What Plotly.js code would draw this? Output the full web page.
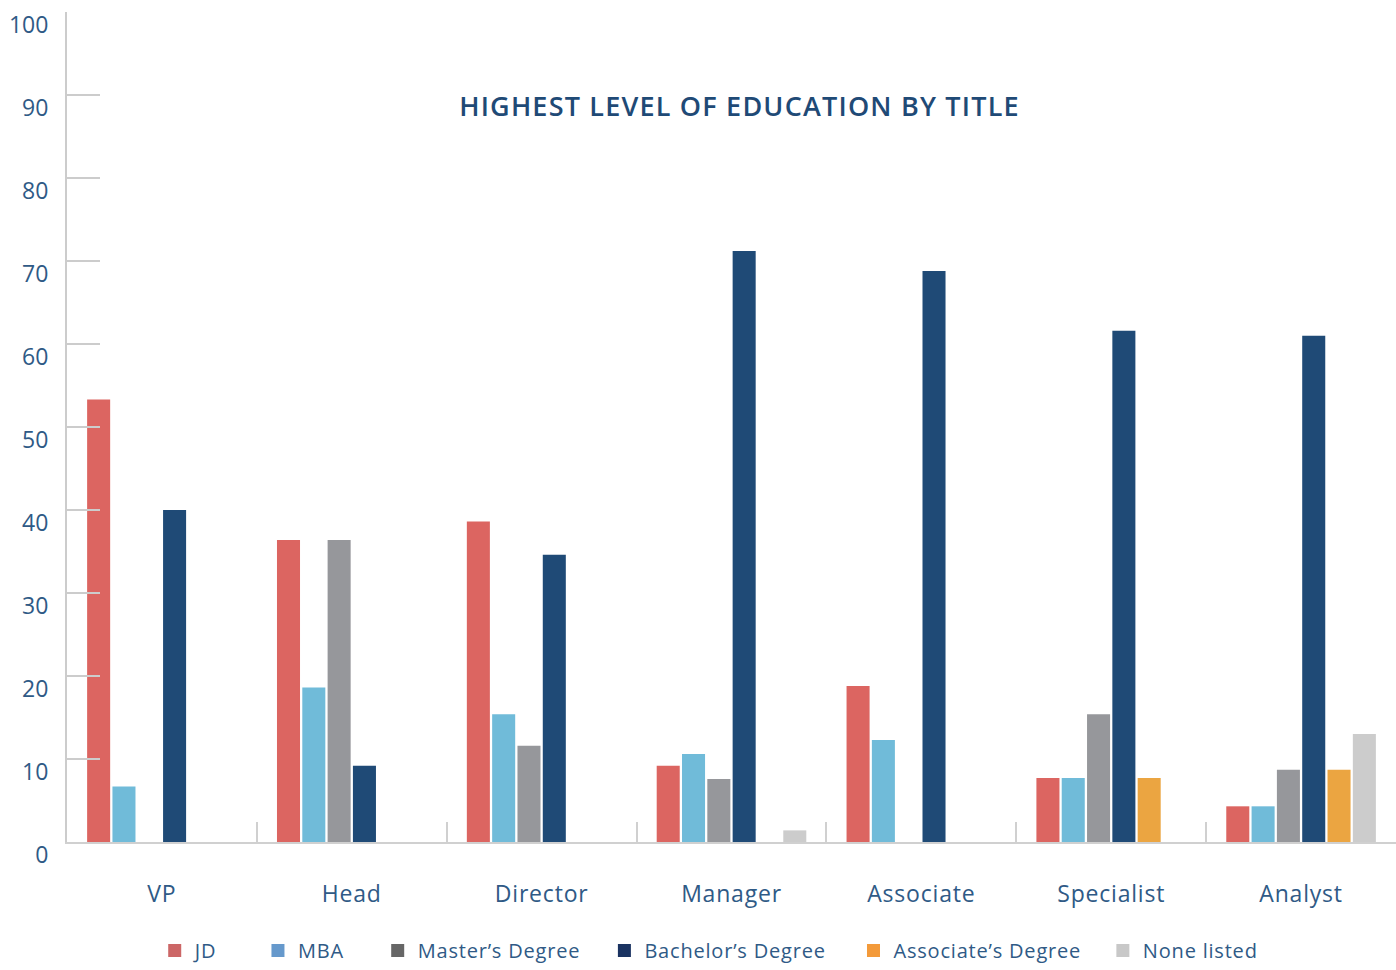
<!DOCTYPE html>
<html><head><meta charset="utf-8">
<script src="https://cdn.plot.ly/plotly-3.0.1.min.js"></script>
<style>html,body{margin:0;padding:0;background:#fff}#chart{width:1396px;height:970px}
#chart .gtitle{letter-spacing:1.2px}
#chart .xtick text{letter-spacing:0.8px}
#chart .legendtext{letter-spacing:0.8px}
</style>
</head><body><div id="chart"></div>
<script>
const titles = ["VP", "Head", "Director", "Manager", "Associate", "Specialist", "Analyst"];
const seriesNames = ["JD", "MBA", "Master’s Degree", "Bachelor’s Degree", "Associate’s Degree", "None listed"];
const jd        = [53.3, 36.4, 38.6, 9.2, 18.8, 7.7, 4.3];
const mba       = [6.7, 18.6, 15.4, 10.6, 12.3, 7.7, 4.3];
const masters   = [0, 36.4, 11.6, 7.6, 0, 15.4, 8.7];
const bachelors = [40, 9.2, 34.6, 71.2, 68.8, 61.6, 61];
const associates= [0, 0, 0, 0, 0, 7.7, 8.7];
const noneListed= [0, 0, 0, 1.4, 0, 0, 13];
const yTicks = [0,10,20,30,40,50,60,70,80,90,100];

const values = [jd, mba, masters, bachelors, associates, noneListed];
const barColors = ["#dc6561", "#70bbd9", "#96979b", "#1f4a76", "#eba541", "#cccccc"];
const legendColors = ["#cc6666", "#6699cc", "#666666", "#1a3361", "#f39a3a", "#c8c8c8"];
const legendPad = [7, 6, 6, 7, 6, 5];
const textColor = "#2f5a86";
const font = "'Open Sans', 'Noto Sans', sans-serif";

const data = [];
values.forEach((v, i) => {
  data.push({type: "bar", x: titles, y: v, name: seriesNames[i], showlegend: false,
    marker: {color: barColors[i], line: {width: 0}}, hoverinfo: "x+y+name"});
});
seriesNames.forEach((n, i) => {
  data.push({type: "scatter", mode: "markers", x: [null], y: [null], name: n + "\u00a0".repeat(legendPad[i]),
    marker: {symbol: "square", size: 13, color: legendColors[i]}, showlegend: true});
});

const layout = {
  width: 1396, height: 970,
  margin: {l: 67, r: 0, t: 12, b: 128, autoexpand: false},
  paper_bgcolor: "#fff", plot_bgcolor: "#fff",
  font: {family: font, color: textColor},
  barmode: "group", bargap: 0.2, bargroupgap: 0.09,
  title: {text: "HIGHEST LEVEL OF EDUCATION BY TITLE", font: {family: font, size: 27, color: "#1f4a76", weight: 600},
    x: 0.506, xref: "paper", xanchor: "center", y: 0.89, yref: "container", yanchor: "middle"},
  xaxis: {type: "category", showline: true, linecolor: "#d0d0d0", linewidth: 2,
    ticks: "inside", tickson: "boundaries", ticklen: 20, tickwidth: 2, tickcolor: "#d0d0d0",
    tickfont: {size: 23, color: textColor, family: font}, ticklabelstandoff: 30,
    showgrid: false, zeroline: false},
  yaxis: {range: [0, 100], tickvals: yTicks, ticktext: yTicks.map(String), showline: true, linecolor: "#cccccc", linewidth: 2,
    ticks: "inside", ticklen: 33, tickwidth: 2, tickcolor: "#cccccc",
    tickfont: {size: 23, color: textColor, family: font}, ticklabelstandoff: 12, ticklabelshift: 13,
    showgrid: false, zeroline: false},
  legend: {orientation: "h", x: 0.066, xanchor: "left", y: 0, yref: "container", yanchor: "bottom",
    font: {size: 20, color: textColor, family: font}, itemwidth: 30}
};
Plotly.newPlot("chart", data, layout, {displayModeBar: false, staticPlot: true});
</script></body></html>
